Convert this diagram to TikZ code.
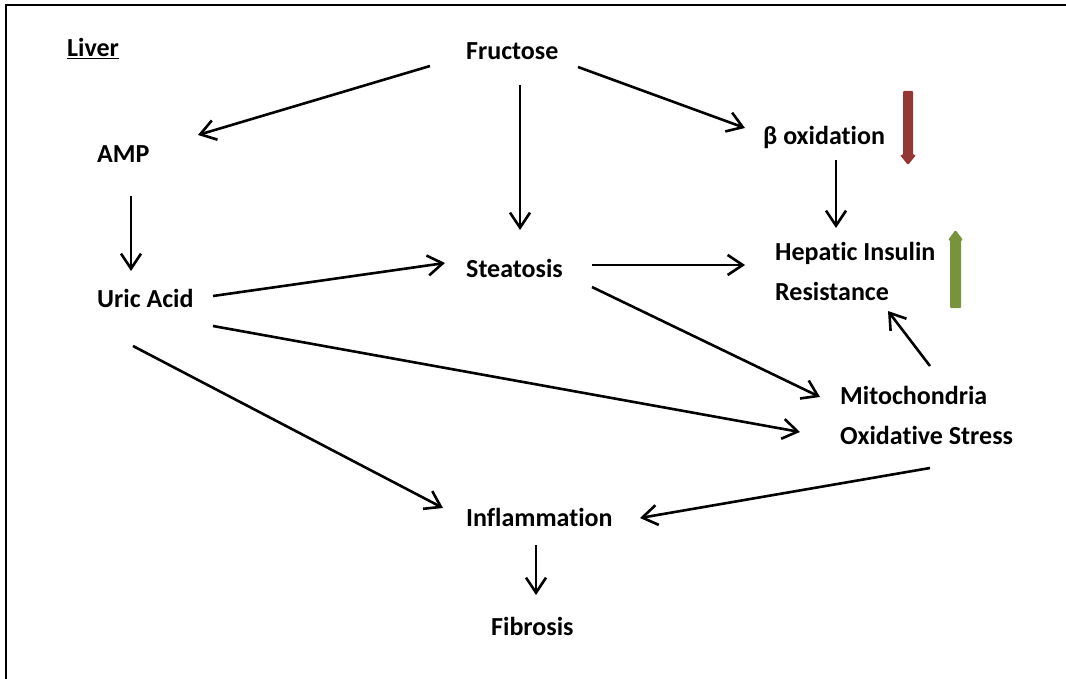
\documentclass[tikz,border=0pt]{standalone}
\usepackage{fontspec}
\setmainfont{Carlito}[Ligatures=NoCommon]
\usetikzlibrary{arrows.meta}
\definecolor{downred}{HTML}{953735}
\definecolor{upgreen}{HTML}{77933C}
\tikzset{
  lbl/.style={anchor=base west, inner sep=0pt, align=left,
    font={\fontsize{26}{40}\selectfont\bfseries}},
  conn/.style={line width=2.6pt, -{Straight Barb[length=15pt,width=20pt,line width=2.6pt]}},
}
\begin{document}
\begin{tikzpicture}[x=1pt,y=-1pt]
\useasboundingbox (0,0) rectangle (1066,679);
\draw[line width=2.5pt] (6,679) -- (6,5) -- (1066,5);

\node[lbl] (liver) at (67,57) {\underline{Liver}};
\node[lbl] (fru) at (466,60) {Fructose};
\node[lbl] (amp) at (97,163) {AMP};
\node[lbl] (uric) at (97,308) {Uric Acid};
\node[lbl] (stea) at (466,277) {Steatosis};
\node[lbl] (beta) at (763,145) {β oxidation};
\node[lbl] (hep) at (775,301) {Hepatic Insulin\\Resistance};
\node[lbl] (mito) at (840,444) {Mitochondria\\Oxidative Stress};
\node[lbl] (infl) at (466,526) {Inflammation};
\node[lbl] (fib) at (491,635) {Fibrosis};

\draw[conn] ([shift={(-36,6)}]fru.base west) -- ([shift={(101,-28)}]amp.base west);
\draw[conn] ([shift={(54,25)}]fru.base west) -- ([shift={(54,-47)}]stea.base west);
\draw[conn] ([shift={(112,7)}]fru.base west) -- ([shift={(-18,-17)}]beta.base west);
\draw[conn] ([shift={(73,15)}]beta.base west) -- ([shift={(61,-73)}]hep.base west);
\draw[conn] ([shift={(34,33)}]amp.base west) -- ([shift={(34,-37)}]uric.base west);
\draw[conn] ([shift={(116,-12)}]uric.base west) -- ([shift={(-21,-14)}]stea.base west);
\draw[conn] ([shift={(126,-12)}]stea.base west) -- ([shift={(-30,-36)}]hep.base west);
\draw[conn] ([shift={(126,10)}]stea.base west) -- ([shift={(-20,-47)}]mito.base west);
\draw[conn] ([shift={(116,18)}]uric.base west) -- ([shift={(-40,-12)}]mito.base west);
\draw[conn] ([shift={(36,38)}]uric.base west) -- ([shift={(-23,-18)}]infl.base west);
\draw[conn] ([shift={(90,-78)}]mito.base west) -- ([shift={(113,10)}]hep.base west);
\draw[conn] ([shift={(90,24)}]mito.base west) -- ([shift={(174,-8)}]infl.base west);
\draw[conn] ([shift={(70,19)}]infl.base west) -- ([shift={(45,-40)}]fib.base west);

% trend markers
\fill[downred, rounded corners=1pt] (903,91) -- (913,91) -- (913,155) -- (916,155) -- (908,165) -- (900,155) -- (903,155) -- cycle;
\fill[upgreen, rounded corners=1pt] (950,308) -- (961,308) -- (961,240) -- (963,240) -- (955.5,230) -- (948,240) -- (950,240) -- cycle;
\end{tikzpicture}
\end{document}
